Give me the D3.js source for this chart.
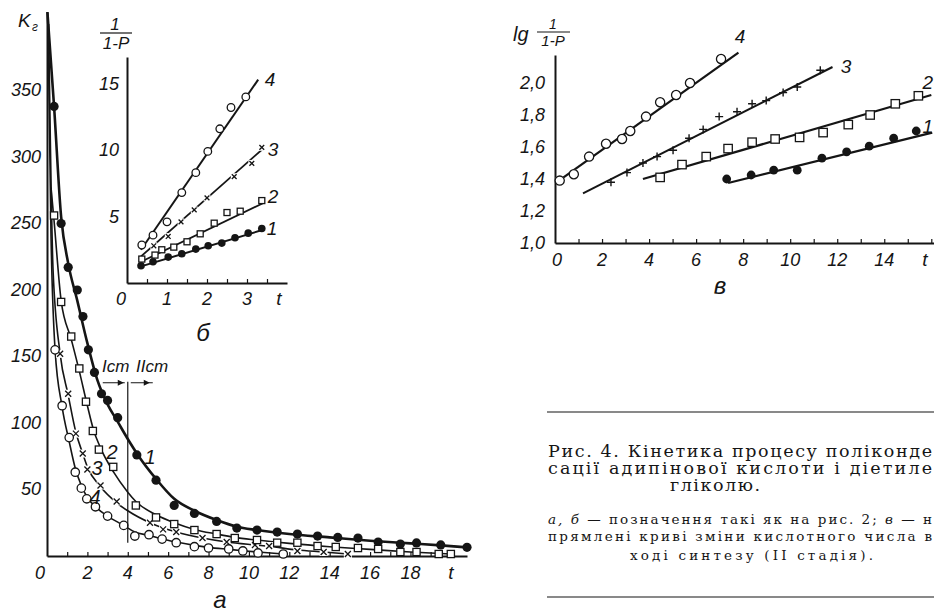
<!DOCTYPE html>
<html>
<head>
<meta charset="utf-8">
<script src="https://cdn.jsdelivr.net/npm/d3@7"></script>
<style>
  body { margin: 0; background: #fff; }
  svg { display: block; }
  .num { font-family: "Liberation Sans", Arial, sans-serif; font-style: italic; fill: #151515; }
  .cap { font-family: "DejaVu Serif", "Liberation Serif", serif; fill: #151515; }
</style>
</head>
<body>
<svg id="fig" width="934" height="613"></svg>
<script>
// ---- panel а : K vs t ----
const aTicksX = [0, 2, 4, 6, 8, 10, 12, 14, 16, 18]
const aTicksY = [50, 100, 150, 200, 250, 300, 350]
const a1Points = [[0.35,338],[0.7,250],[1.05,217],[1.5,200],[1.78,180],[2.05,155],[2.35,138],[2.7,122],[3.0,117],[3.5,104],[4.45,76],[5.4,57],[6.3,38],[7.3,32],[8.4,26],[9.4,21],[10.4,19.5],[11.4,18],[12.4,16.5],[13.4,15],[14.4,14],[15.4,13.5],[16.4,10.5],[17.5,9],[18.3,9.8],[19.5,8.3],[20.8,6.5]]
const a1Line = [[0.02,409],[0.35,338],[0.7,255],[1.05,220],[1.5,192],[2,160],[2.5,132],[3,114],[3.5,101],[4,88],[4.5,76],[5.4,58],[6.3,43],[7.3,34],[8.4,27],[9.4,22],[10.4,19.5],[12,16.5],[14,14],[16,11.5],[18,9.5],[19.5,8],[20.8,6.5]]
const a2Points = [[0.35,256],[0.7,191],[1.2,165],[1.6,141],[1.93,116],[2.27,94],[2.57,80],[3.28,67],[4.4,38],[5.4,29],[6.3,24],[7.3,19.5],[8.4,16.5],[9.3,13.5],[10.4,12],[11.4,10],[12.4,10],[13.4,7.5],[14.3,6.8],[15.4,6],[16.4,5.3],[17.5,3],[18.3,3],[19.4,1.5],[20,1.5]]
const a2Line = [[0.2,277],[0.35,252],[0.7,192],[1.2,163],[1.6,139],[2,113],[2.3,95],[2.6,83],[3.3,63],[4,48],[4.4,41],[5.4,31],[6.3,25],[7.3,20],[8.4,16.5],[9.3,14],[10.4,12],[12,9.5],[14,7],[16,5],[18,3],[20,1.5]]
const a3Points = [[0.65,152],[1.05,122],[1.43,92],[1.77,77],[2.0,65],[2.65,53],[3.45,41],[5.1,25],[5.75,20],[6.4,18],[7.7,13.5],[8.9,10.5],[10.3,8.3],[11,7.5],[12.4,3.8],[13.7,3],[14.9,1.5]]
const a3Line = [[0.08,400],[0.3,215],[0.65,152],[1.05,121],[1.43,93],[1.77,77],[2,67],[2.65,52],[3.45,40],[4,34],[5.1,25],[5.75,21],[6.4,18],[7.7,13.5],[8.9,10.5],[10.3,8.3],[11,7.3],[12.4,4.5],[13.7,3],[14.9,1.5]]
const a4Points = [[0.4,155],[0.75,113],[1.1,89],[1.4,63],[1.7,51],[1.97,43],[2.4,37],[3.0,30],[3.8,23],[4.35,15],[5.05,16],[5.7,12.7],[6.4,10],[7.3,7],[8,6],[9,5.3],[9.7,3.8],[10.45,2.3],[11.7,1.5]]
const a4Line = [[0.05,400],[0.2,240],[0.4,155],[0.75,112],[1.1,86],[1.4,66],[1.7,53],[2,44],[2.4,37],[3,30],[3.8,23],[4.35,18],[5.05,15.5],[5.7,12.8],[6.4,10.5],[7.3,8],[8,6.5],[9,5],[9.7,4],[10.45,3],[11.7,1.5]]
const aStageT = 4
const aStageK = [10, 131]

// ---- panel б : 1/(1-P) vs t ----
const bTicksX = [0, 1, 2, 3]
const bTicksY = [5, 10, 15]
const b1Points = [[0.35,1.3],[0.65,1.6],[1.03,1.95],[1.37,2.2],[1.72,2.55],[2.03,2.8],[2.37,3.0],[2.7,3.4],[3.03,3.75],[3.37,4.1]]
const b1Line = [[0.35,1.25],[3.4,4.0]]
const b2Points = [[0.37,1.8],[0.7,2.1],[0.87,2.5],[1.17,2.7],[1.5,3.1],[1.83,3.7],[2.18,4.5],[2.5,5.3],[2.83,5.4],[3.37,6.2]]
const b2Line = [[0.35,1.6],[3.4,6.0]]
const b3Points = [[0.67,2.8],[1.03,3.5],[1.35,4.6],[1.68,5.5],[2.0,6.4],[2.68,8.0],[3.12,9.0],[3.37,10.2]]
const b3Line = [[0.35,2.0],[3.4,10.1]]
const b4Points = [[0.37,2.86],[0.65,3.6],[1.0,4.6],[1.37,6.8],[1.72,8.3],[2.02,9.9],[2.32,11.6],[2.6,13.2],[2.97,14.0]]
const b4Line = [[0.35,2.5],[3.28,15.3]]

// ---- panel в : lg 1/(1-P) vs t ----
const cTicksX = [0, 2, 4, 6, 8, 10, 12, 14]
const cTicksY = [1.0, 1.2, 1.4, 1.6, 1.8, 2.0]
const c1Points = [[7.3,1.40],[8.34,1.425],[9.3,1.455],[10.3,1.455],[11.35,1.53],[12.4,1.57],[13.36,1.605],[14.4,1.655],[15.36,1.70]]
const c1Line = [[7.36,1.375],[16.04,1.69]]
const c2Points = [[4.47,1.41],[5.4,1.49],[6.43,1.54],[7.36,1.59],[8.38,1.63],[9.36,1.65],[10.4,1.66],[11.4,1.69],[12.47,1.74],[13.4,1.8],[14.47,1.87],[15.45,1.92]]
const c2Line = [[3.74,1.40],[16,1.925]]
const c3Points = [[2.38,1.38],[3.06,1.44],[3.74,1.5],[4.34,1.54],[5.02,1.58],[5.7,1.655],[6.3,1.71],[6.98,1.79],[7.74,1.82],[8.38,1.87],[8.98,1.89],[9.7,1.94],[10.3,1.975],[11.28,2.08]]
const c3Line = [[1.19,1.31],[11.8,2.1]]
const c4Points = [[0.2,1.39],[0.8,1.43],[1.45,1.54],[2.17,1.62],[2.85,1.65],[3.2,1.70],[3.87,1.79],[4.47,1.88],[5.15,1.925],[5.74,2.0],[7.06,2.15]]
const c4Line = [[0.08,1.38],[7.8,2.19]]

// caption
const captionMain = ["Рис. 4. Кінетика процесу поліконде", "сації адипінової кислоти і діетиле", "гліколю."]
const captionNote = ["позначення такі як на рис. 2;", "прямлені криві зміни кислотного числа в", "ході синтезу (II стадія)."]

const ink = '#151515'
const svg = d3.select('#fig')
svg.append('rect').attr('width', 934).attr('height', 613).attr('fill', '#fff')

/**
 * Draws the two axis lines with small inward ticks.
 */
const drawAxes = (g, x, y, minorX) => {
  g.append('g')
    .attr('transform', `translate(0,${y.range()[0]})`)
    .call(d3.axisBottom(x).tickValues(minorX).tickSize(-4).tickSizeOuter(0).tickFormat(''))
    .call(a => a.select('.domain').attr('stroke', ink).attr('stroke-width', 2))
    .call(a => a.selectAll('.tick line').attr('stroke', ink).attr('stroke-width', 1.2))
  g.append('g')
    .attr('transform', `translate(${x.range()[0]},0)`)
    .call(d3.axisLeft(y).tickValues([]).tickSizeOuter(0))
    .call(a => a.select('.domain').attr('stroke', ink).attr('stroke-width', 2))
}

const drawLine = (g, data, x, y, width, curve) => {
  g.append('path')
    .datum(data)
    .attr('fill', 'none')
    .attr('stroke', ink)
    .attr('stroke-width', width)
    .attr('d', d3.line().x(d => x(d[0])).y(d => y(d[1])).curve(curve || d3.curveLinear))
}

/**
 * Markers: dot (filled), circle, square, cross (x), plus (+).
 */
const drawMarkers = (g, data, x, y, kind, s) => {
  const sel = g.append('g').selectAll('g').data(data).enter().append('g')
    .attr('transform', d => `translate(${x(d[0])},${y(d[1])})`)
  if (kind === 'dot') {
    sel.append('circle').attr('r', s).attr('fill', ink)
  } else if (kind === 'circle') {
    sel.append('circle').attr('r', s).attr('fill', '#fff').attr('stroke', ink).attr('stroke-width', 1.3)
  } else if (kind === 'square') {
    sel.append('rect').attr('x', -s).attr('y', -s).attr('width', 2 * s).attr('height', 2 * s)
      .attr('fill', '#fff').attr('stroke', ink).attr('stroke-width', 1.3)
  } else if (kind === 'cross') {
    sel.append('rect').attr('x', -s - 1).attr('y', -s - 1).attr('width', 2 * s + 2).attr('height', 2 * s + 2).attr('fill', '#fff')
    sel.append('path').attr('d', `M${-s},${-s}L${s},${s}M${-s},${s}L${s},${-s}`).attr('stroke', ink).attr('stroke-width', 1.3)
  } else {
    sel.append('path').attr('d', `M${-s},0L${s},0M0,${-s}L0,${s}`).attr('stroke', ink).attr('stroke-width', 1.4)
  }
}

const label = (g, x, y, txt, size, anchor) => g.append('text')
  .attr('class', 'num').attr('x', x).attr('y', y)
  .attr('font-size', size).attr('text-anchor', anchor || 'middle').text(txt)

// ---------------- panel а ----------------
const xA = d3.scaleLinear().domain([0, 20.8]).range([47, 467])
const yA = d3.scaleLinear().domain([0, 409]).range([556, 12])
const gA = svg.append('g')
drawAxes(gA, xA, yA, d3.range(1, 21))

gA.selectAll('text.xa').data(aTicksX).enter().append('text')
  .attr('class', 'num').attr('font-size', 18).attr('text-anchor', 'middle')
  .attr('x', d => xA(d) - (d === 0 ? 7 : 0)).attr('y', 579).text(d => d)
gA.selectAll('text.ya').data(aTicksY).enter().append('text')
  .attr('class', 'num').attr('font-size', 18).attr('text-anchor', 'end')
  .attr('x', 41).attr('y', d => yA(d) + 6).text(d => d)
label(gA, xA(20), 579, 't', 19)
label(gA, 18, 27, 'K', 19, 'start')
label(gA, 32, 31, 'г', 12, 'start')

drawLine(gA, a1Line, xA, yA, 2.6, d3.curveMonotoneX)
drawLine(gA, a2Line, xA, yA, 1.6, d3.curveMonotoneX)
drawLine(gA, a3Line, xA, yA, 1.6, d3.curveMonotoneX)
drawLine(gA, a4Line, xA, yA, 1.6, d3.curveMonotoneX)
drawMarkers(gA, a3Points, xA, yA, 'cross', 3)
drawMarkers(gA, a1Points, xA, yA, 'dot', 4.6)
drawMarkers(gA, a2Points, xA, yA, 'square', 3.6)
drawMarkers(gA, a4Points, xA, yA, 'circle', 4.2)

// stage divider
gA.append('line')
  .attr('x1', xA(aStageT)).attr('x2', xA(aStageT))
  .attr('y1', yA(aStageK[0])).attr('y2', yA(aStageK[1]))
  .attr('stroke', ink).attr('stroke-width', 1.2)
const arrowY = yA(aStageK[1]) + 1
gA.append('path')
  .attr('d', `M${xA(aStageT) - 25},${arrowY}H${xA(aStageT) - 3}M${xA(aStageT) + 3},${arrowY}H${xA(aStageT) + 25}`)
  .attr('stroke', ink).attr('stroke-width', 1.2)
gA.append('path')
  .attr('d', `M${xA(aStageT) - 10},${arrowY - 3}L${xA(aStageT) - 4},${arrowY}L${xA(aStageT) - 10},${arrowY + 3}Z` +
    `M${xA(aStageT) + 16},${arrowY - 3}L${xA(aStageT) + 22},${arrowY}L${xA(aStageT) + 16},${arrowY + 3}Z`)
  .attr('fill', ink)
label(gA, 102, 372, 'Iст', 17, 'start')
label(gA, 136, 372, 'IIст', 17, 'start')

label(gA, 150, 464, '1', 20)
label(gA, 112, 459, '2', 20)
label(gA, 97, 475, '3', 20)
label(gA, 95, 504, '4', 20)
label(gA, 220, 608, 'а', 24)

// ---------------- panel б ----------------
const xB = d3.scaleLinear().domain([0, 4]).range([127, 287])
const yB = d3.scaleLinear().domain([0, 17]).range([283, 57])
const gB = svg.append('g')
drawAxes(gB, xB, yB, d3.range(0.5, 4, 0.5))

gB.selectAll('text.xb').data(bTicksX).enter().append('text')
  .attr('class', 'num').attr('font-size', 18).attr('text-anchor', 'middle')
  .attr('x', d => xB(d) - (d === 0 ? 6 : 0)).attr('y', 305).text(d => d)
gB.selectAll('text.yb').data(bTicksY).enter().append('text')
  .attr('class', 'num').attr('font-size', 18).attr('text-anchor', 'end')
  .attr('x', 119).attr('y', d => yB(d) + 6).text(d => d)
label(gB, 279, 305, 't', 19)
label(gB, 115, 30, '1', 17)
gB.append('line').attr('x1', 100).attr('x2', 132).attr('y1', 33).attr('y2', 33).attr('stroke', ink).attr('stroke-width', 1.2)
label(gB, 116, 49, '1-P', 17)

drawLine(gB, b1Line, xB, yB, 2)
drawLine(gB, b2Line, xB, yB, 1.8)
drawLine(gB, b3Line, xB, yB, 1.8)
drawLine(gB, b4Line, xB, yB, 2)
drawMarkers(gB, b1Points, xB, yB, 'dot', 3.8)
drawMarkers(gB, b2Points, xB, yB, 'square', 3)
drawMarkers(gB, b3Points, xB, yB, 'cross', 2.4)
drawMarkers(gB, b4Points, xB, yB, 'circle', 3.8)

label(gB, 270, 86, '4', 19)
label(gB, 273, 156, '3', 19)
label(gB, 273, 203, '2', 19)
label(gB, 272, 235, '1', 19)
label(gB, 203, 341, 'б', 24)

// ---------------- panel в ----------------
const xC = d3.scaleLinear().domain([0, 16.2]).range([555, 936])
const yC = d3.scaleLinear().domain([1.0, 2.175]).range([243, 55])
const gC = svg.append('g')
drawAxes(gC, xC, yC, d3.range(1, 17))

gC.selectAll('text.xc').data(cTicksX).enter().append('text')
  .attr('class', 'num').attr('font-size', 18).attr('text-anchor', 'middle')
  .attr('x', d => xC(d) + (d === 0 ? 2 : 0)).attr('y', 266).text(d => d)
gC.selectAll('text.yc').data(cTicksY).enter().append('text')
  .attr('class', 'num').attr('font-size', 18).attr('text-anchor', 'end')
  .attr('x', 545).attr('y', d => yC(d) + 6).text(d => d3.format('.1f')(d).replace('.', ','))
label(gC, 925, 266, 't', 19)
label(gC, 513, 41, 'lg', 20, 'start')
label(gC, 553, 29, '1', 14)
gC.append('line').attr('x1', 537).attr('x2', 570).attr('y1', 32).attr('y2', 32).attr('stroke', ink).attr('stroke-width', 1.1)
label(gC, 553, 46, '1-P', 15)

drawLine(gC, c1Line, xC, yC, 2.2)
drawLine(gC, c2Line, xC, yC, 2.2)
drawLine(gC, c3Line, xC, yC, 2)
drawLine(gC, c4Line, xC, yC, 2.2)
drawMarkers(gC, c1Points, xC, yC, 'dot', 4.4)
drawMarkers(gC, c2Points, xC, yC, 'square', 4.2)
drawMarkers(gC, c3Points, xC, yC, 'plus', 4)
drawMarkers(gC, c4Points, xC, yC, 'circle', 4.6)

label(gC, 740, 43, '4', 19)
label(gC, 846, 73, '3', 19)
label(gC, 933, 89, '2', 19, 'end')
label(gC, 933, 133, '1', 19, 'end')
label(gC, 720, 294, 'в', 24)

// ---------------- caption ----------------
const gT = svg.append('g')
gT.append('line').attr('x1', 547).attr('x2', 934).attr('y1', 412).attr('y2', 412).attr('stroke', ink).attr('stroke-width', 1.2)
gT.append('line').attr('x1', 547).attr('x2', 934).attr('y1', 597).attr('y2', 597).attr('stroke', ink).attr('stroke-width', 1.2)

gT.append('text').attr('class', 'cap').attr('font-size', 17.5).attr('x', 548).attr('y', 457)
  .attr('textLength', 384).attr('lengthAdjust', 'spacing').text(captionMain[0])
gT.append('text').attr('class', 'cap').attr('font-size', 17.5).attr('x', 548).attr('y', 474)
  .attr('textLength', 384).attr('lengthAdjust', 'spacing').text(captionMain[1])
gT.append('text').attr('class', 'cap').attr('font-size', 17.5).attr('x', 670).attr('y', 491)
  .attr('textLength', 90).attr('lengthAdjust', 'spacing').text(captionMain[2])

const note0 = gT.append('text').attr('class', 'cap').attr('font-size', 13.5).attr('x', 548).attr('y', 524)
  .attr('textLength', 384).attr('lengthAdjust', 'spacing')
note0.append('tspan').attr('font-style', 'italic').text('а, б')
note0.append('tspan').text(' — ' + captionNote[0] + ' ')
note0.append('tspan').attr('font-style', 'italic').text('в')
note0.append('tspan').text(' — н')
gT.append('text').attr('class', 'cap').attr('font-size', 13.5).attr('x', 548).attr('y', 541)
  .attr('textLength', 384).attr('lengthAdjust', 'spacing').text(captionNote[1])
gT.append('text').attr('class', 'cap').attr('font-size', 13.5).attr('x', 630).attr('y', 560)
  .attr('textLength', 243).attr('lengthAdjust', 'spacing').text(captionNote[2])
</script>
</body>
</html>
